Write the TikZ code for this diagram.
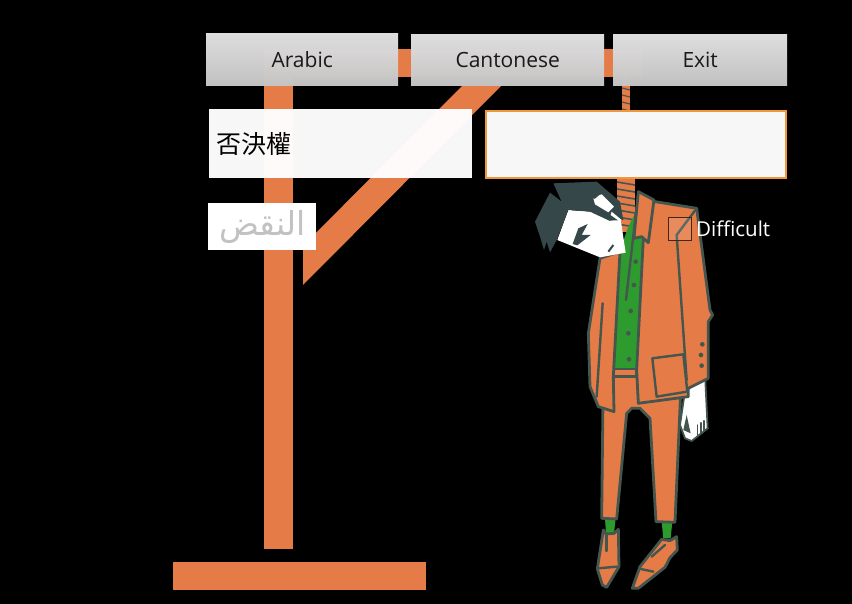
\documentclass[tikz,border=0pt]{standalone}
\usepackage{fontspec}
\setmainfont{Open Sans}
\newfontfamily\cjkfont{Noto Sans CJK TC}
\newfontfamily\arabicfont[Script=Arabic]{DejaVu Sans}
\TeXXeTstate=1
\usepackage{xcolor}
\usetikzlibrary{positioning}
\definecolor{woodorange}{HTML}{E57B46}
\definecolor{inkgrey}{HTML}{45564F}
\definecolor{shirtgreen}{HTML}{2E9B2E}
\definecolor{hairgrey}{HTML}{36474A}
\definecolor{focusorange}{HTML}{F0963C}
\tikzset{
  wood/.style={fill=woodorange,draw=none},
  suit/.style={fill=woodorange,draw=inkgrey,line width=2.8pt,line join=round},
  seam/.style={draw=inkgrey,line width=2.4pt,line cap=round,line join=round},
  btnbox/.style={draw=none,top color=black!12,bottom color=black!23,fill opacity=0.99,text opacity=1,
    inner sep=0pt,anchor=north west,text=black!90,font=\fontsize{21}{24}\selectfont},
  fieldbox/.style={fill=white,fill opacity=0.97,text opacity=1,inner sep=0pt,anchor=north west},
}
\begin{document}
\begin{tikzpicture}[x=1pt,y=-1pt]
  \useasboundingbox (0,0) rectangle (852,604);
  \fill[black] (0,0) rectangle (852,604);
  % Gallows
  \fill[wood] (173,562) rectangle (426,590);
  \fill[wood] (264,49) rectangle (293,549);
  \fill[wood] (264,49) rectangle (642,77);
  \fill[wood] (303,246) -- (463,85) -- (502,85) -- (303,285) -- cycle;
  % Rope
  \fill[woodorange] (622,77) rectangle (630,112);
  \foreach \ry in {88,95,...,109}
    \draw[inkgrey,line width=1.2pt] (622,\ry) -- (630,\ry+2);
  \fill[woodorange] (617,176) rectangle (635,232);
  \foreach \ry in {182,189,...,224}
    \draw[inkgrey,line width=1.6pt] (617,\ry) -- (635,\ry+3);
  % Legs and socks, in zoom units of the lower part
  \begin{scope}[shift={(570,370)},x=0.3333pt,y=-0.3333pt]
    \fill[shirtgreen] (105,445) -- (137,445) -- (132,490) -- (108,492) -- cycle;
    \fill[shirtgreen] (275,455) -- (307,455) -- (302,505) -- (280,505) -- cycle;
    \draw[suit] (100,0) -- (95,445) -- (140,447) -- (170,130) -- (185,115) -- (210,115)
      -- (240,145) -- (258,455) -- (315,457) -- (335,0) -- cycle;
    \draw[seam] (130,20) -- (205,20);
    % Shoes
    \draw[suit] (100,480) -- (108,492) -- (132,490) -- (145,478) -- (147,590) -- (110,652) -- (97,645) -- (82,597) -- cycle;
    \draw[seam] (85,595) -- (140,590);
    \draw[seam] (110,490) -- (110,543);
    \draw[suit] (275,508) -- (300,512) -- (320,500) -- (322,540) -- (300,563) -- (285,592)
      -- (205,655) -- (187,655) -- (210,590) -- cycle;
    \draw[seam] (212,597) -- (250,605);
    \draw[seam] (245,560) -- (285,525);
    % Hand
    \draw[inkgrey,line width=1.8pt,fill=white] (350,30) -- (405,10) -- (413,175) -- (365,213) -- (345,205) -- (330,165) -- cycle;
    \fill[inkgrey] (350,135) -- (362,190) -- (340,180) -- cycle;
    \draw[seam,line width=1.2pt] (383,165) -- (383,195);
    \draw[seam,line width=1.2pt] (393,158) -- (393,190);
    \draw[seam,line width=1.2pt] (402,152) -- (402,182);
  \end{scope}
  % Jacket, head and shirt, in zoom units of the upper part
  \begin{scope}[shift={(520,170)},x=0.3333pt,y=-0.3333pt]
    % Shirt
    \fill[shirtgreen] (300,240) -- (325,170) -- (360,100) -- (370,200) -- (352,600) -- (278,600) -- cycle;
    \foreach \bx/\by in {347/275,342/345,332/423,325/490,327/568}
      \fill[inkgrey] (\bx,\by) circle [radius=7];
    \draw[seam] (350,110) -- (318,390);
    % Belt
    \draw[suit] (280,597) -- (350,597) -- (350,620) -- (280,620) -- cycle;
    % Jacket left panel
    \draw[suit] (240,265) -- (300,245) -- (280,620) -- (282,725) -- (235,710)
      -- (210,650) -- (205,490) -- cycle;
    \draw[seam] (248,400) -- (230,680);
    % Jacket right panel
    \draw[suit] (375,90) -- (530,115) -- (570,420) -- (578,435) -- (565,455) -- (565,625)
      -- (505,655) -- (505,680) -- (355,700) -- (350,600) -- (370,205) -- cycle;
    \draw[seam] (530,115) -- (470,195) -- (500,630);
    % Pocket
    \draw[seam] (397,565) -- (490,553) -- (502,665) -- (410,680) -- cycle;
    \foreach \bx/\by in {547/523,543/555,545/587}
      \fill[inkgrey] (\bx,\by) circle [radius=7];
    % Head
    \fill[white] (145,120) -- (215,125) -- (270,152) -- (300,135) -- (317,248) -- (240,262) -- (112,210) -- cycle;
    \fill[hairgrey] (100,40) -- (230,35) -- (300,95) -- (310,150) -- (268,152) -- (210,125) -- (145,120)
      -- (110,210) -- (90,247) -- (80,215) -- (72,240) -- (60,200) -- (45,155) -- (90,68) -- (125,95) -- cycle;
    \fill[white] (220,85) to[out=-80,in=180] (245,73) -- (282,110) -- (265,127) -- (225,103) -- cycle;
    \fill[white] (275,125) -- (305,150) -- (300,155) -- (272,135) -- cycle;
    \fill[hairgrey] (158,222) -- (175,175) -- (203,162) -- (185,195) -- (212,195) -- (172,226) -- cycle;
    \draw[hairgrey,line width=2pt] (265,245) -- (280,225);
    % Collar
    \draw[suit] (355,65) -- (402,90) -- (385,218) -- (365,200) -- (342,205) -- cycle;
  \end{scope}
  % Widgets
  \node[btnbox,minimum width=192pt,minimum height=52pt] (arabicbtn) at (206,33) {\raisebox{-1pt}{Arabic}};
  \node[btnbox,minimum width=193pt,minimum height=51pt] (cantonesebtn) at (411,34) {\raisebox{-2pt}{Cantonese}};
  \node[btnbox,minimum width=174pt,minimum height=51pt] (exitbtn) at (613,34) {\raisebox{-2pt}{Exit}};
  \node[fieldbox,minimum width=263pt,minimum height=69pt,text width=256pt,align=left,
    font=\cjkfont\fontsize{25}{30}\selectfont,text=black] (wordfield) at (209,109) {\hspace*{4pt}否決權};
  \node[fieldbox,draw=focusorange,draw opacity=1,line width=2.4pt,minimum width=300pt,minimum height=67pt] (guessfield) at (485,110) {};
  \node[fieldbox,fill opacity=1,minimum width=108pt,minimum height=47pt,text=black!24,
    font=\arabicfont\fontsize{33}{36}\selectfont] (hintlabel) at (208,203) {\beginR النقض\endR};
  \node[draw=black!70!woodorange,line width=0.5pt,fill=white,fill opacity=0.12,draw opacity=1,
    minimum size=23pt,inner sep=0pt,anchor=north west] (difficultbox) at (668,217) {};
  \node[right=4.5pt of difficultbox,inner sep=0pt,text=white,font=\fontsize{20.5}{24}\selectfont] (difficultlabel) {Difficult};
\end{tikzpicture}
\end{document}
